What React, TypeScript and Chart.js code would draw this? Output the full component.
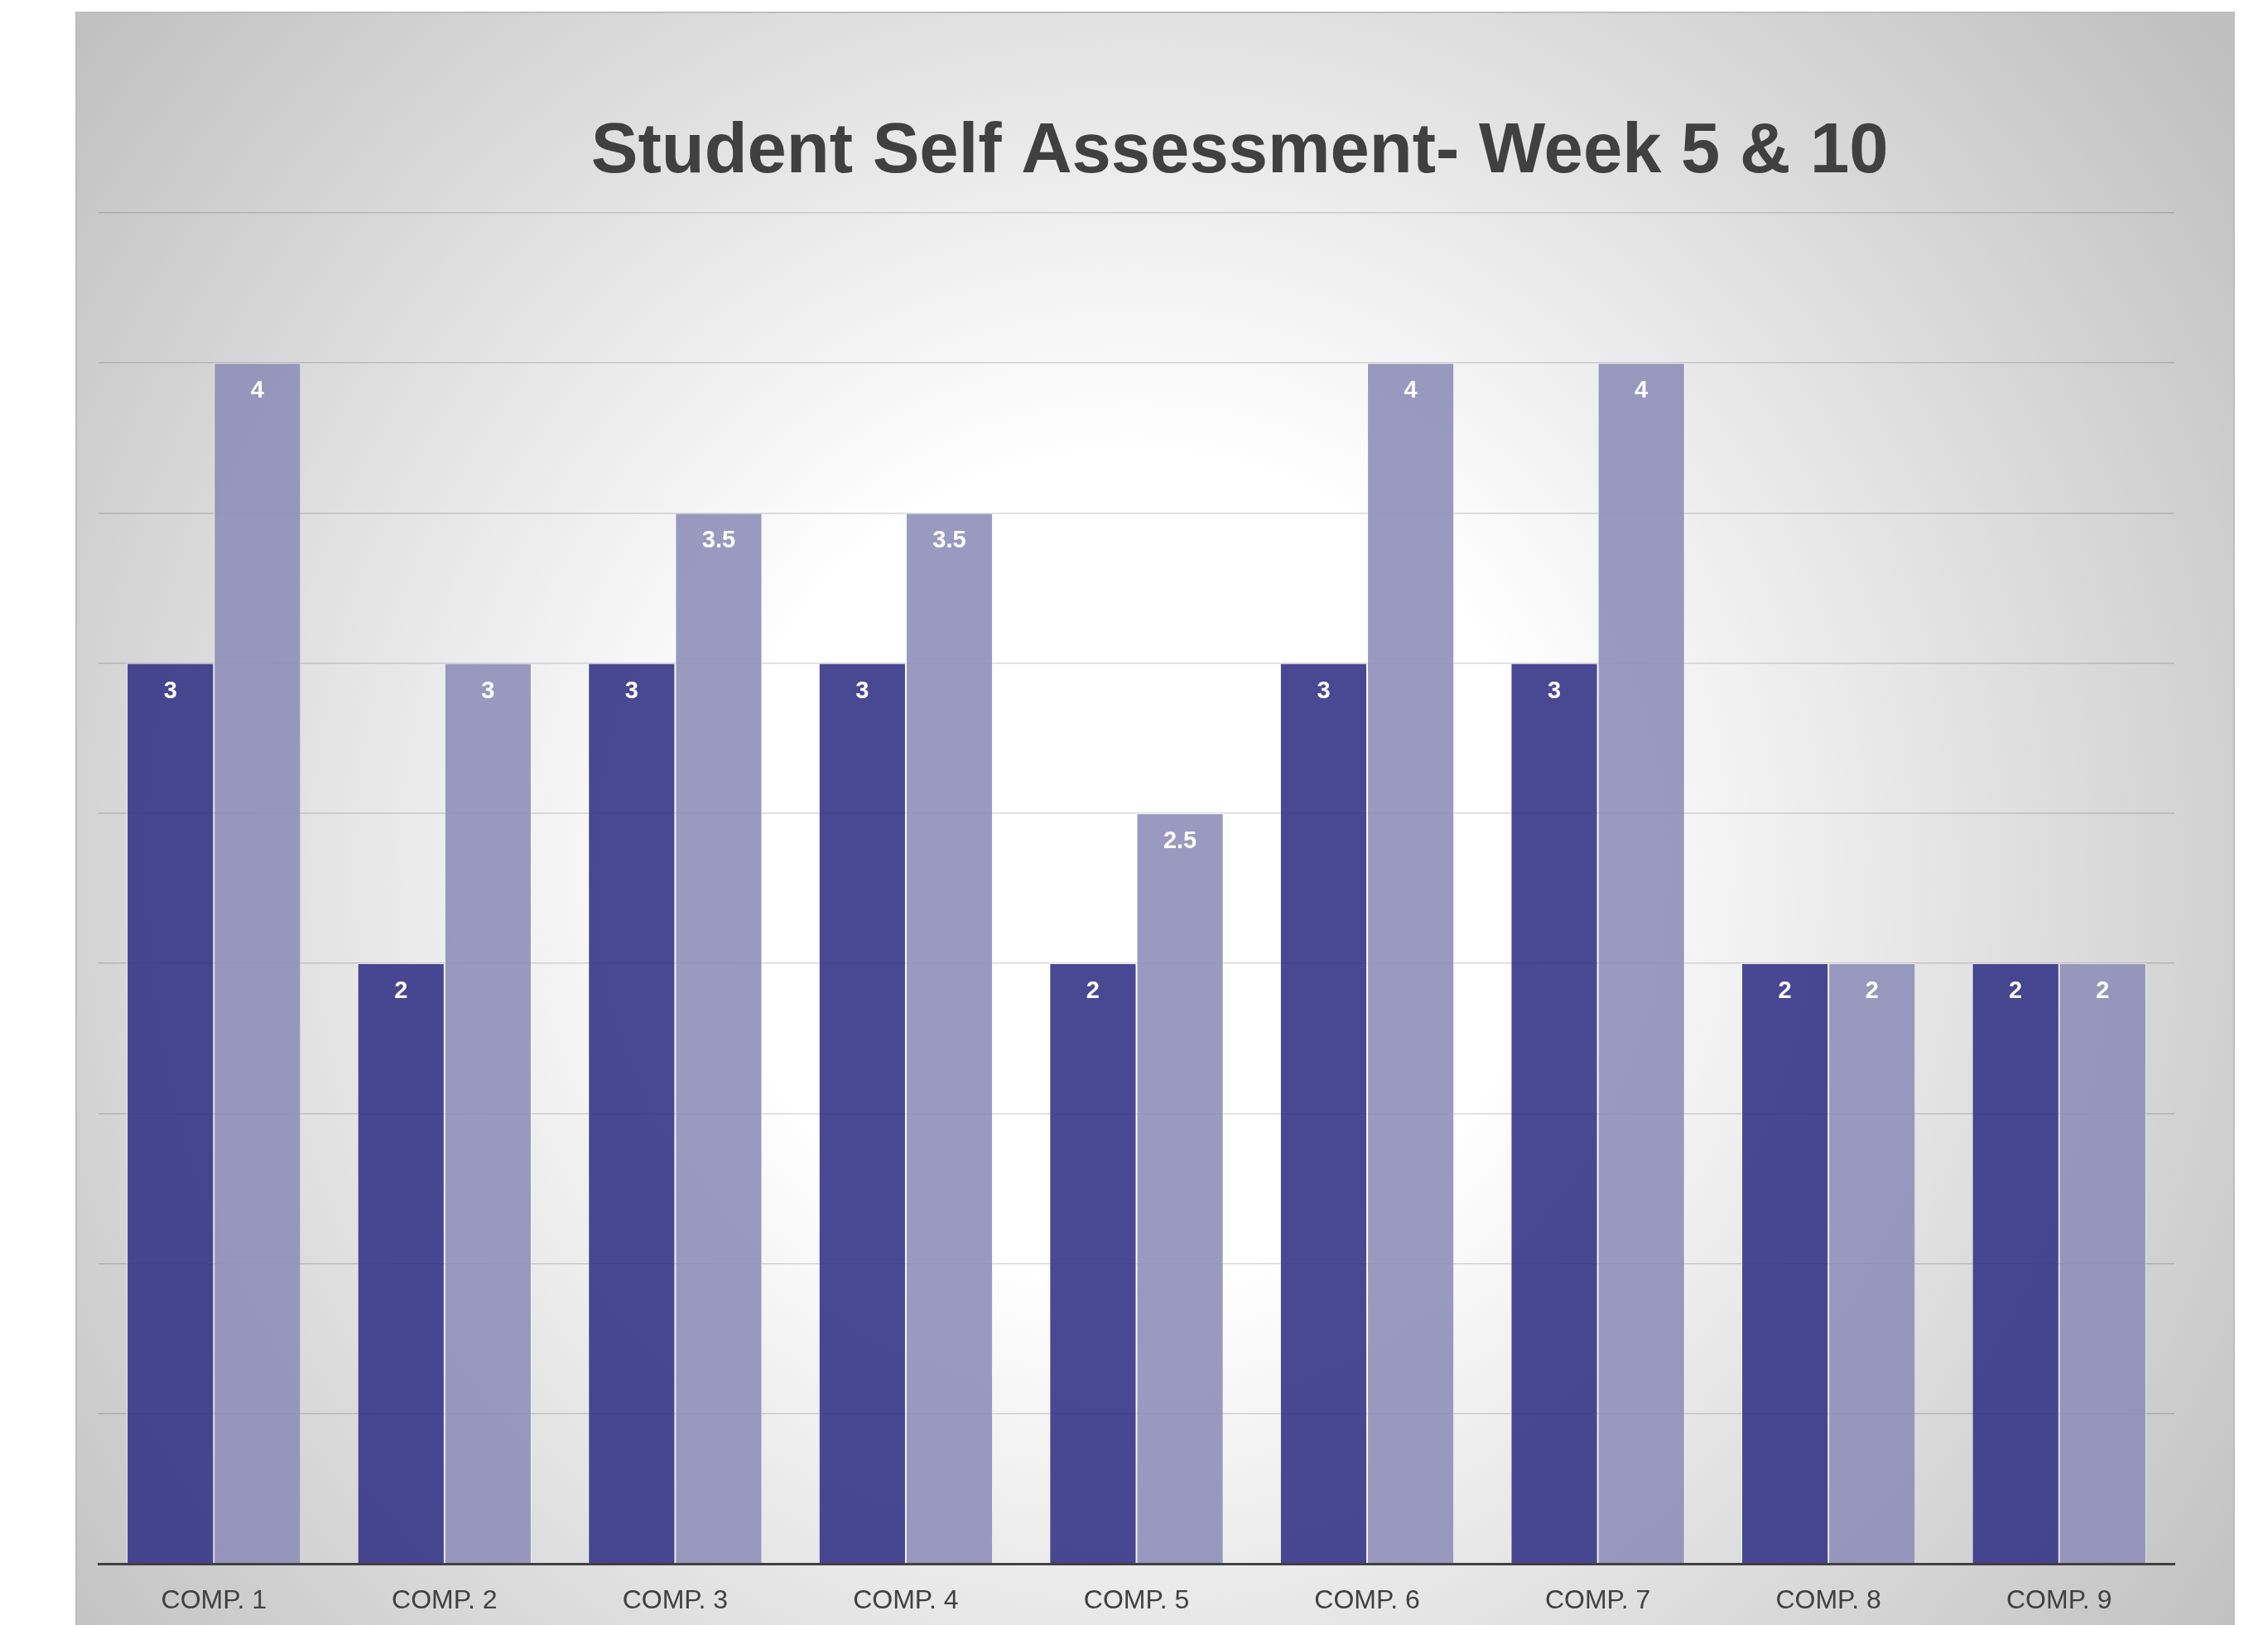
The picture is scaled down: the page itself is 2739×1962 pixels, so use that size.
import React, { useEffect, useRef } from "react";
import { Chart, registerables } from "chart.js";

Chart.register(...registerables);

const categories = ["COMP. 1", "COMP. 2", "COMP. 3", "COMP. 4", "COMP. 5", "COMP. 6", "COMP. 7", "COMP. 8", "COMP. 9"];
const week5 = [3, 2, 3, 3, 2, 3, 3, 2, 2];
const week10 = [4, 3, 3.5, 3.5, 2.5, 4, 4, 2, 2];
const seriesNames = ["Week 5", "Week 10"];
const titleText = "Student Self Assessment- Week 5 & 10";
const FONT = "'Liberation Sans', Arial, sans-serif";

const bgPlugin = {
  id: "bgGradient",
  beforeDraw(chart: any) {
    const { ctx, width, height } = chart;
    ctx.save();
    const cx = width * 0.49;
    const cy = height * 0.53;
    const g = ctx.createRadialGradient(cx, cy, 0, cx, cy, 1650);
    g.addColorStop(0, "#ffffff");
    g.addColorStop(0.3, "#ffffff");
    g.addColorStop(1, "#bfbfbf");
    ctx.fillStyle = g;
    ctx.fillRect(0, 0, width, height);
    ctx.restore();
  },
};

const titlePlugin = {
  id: "customTitle",
  afterDraw(chart: any) {
    const { ctx, chartArea } = chart;
    ctx.save();
    ctx.font = `bold 85px ${FONT}`;
    ctx.fillStyle = "#404040";
    ctx.textAlign = "center";
    ctx.textBaseline = "alphabetic";
    const x = chartArea.left + (chartArea.right - chartArea.left) * 0.5497;
    ctx.fillText(titleText, x, chartArea.top - 49);
    ctx.restore();
  },
};

const valueLabelPlugin = {
  id: "valueLabels",
  afterDatasetsDraw(chart: any) {
    const { ctx } = chart;
    ctx.save();
    ctx.font = `bold 29px ${FONT}`;
    ctx.fillStyle = "#ffffff";
    ctx.textAlign = "center";
    ctx.textBaseline = "middle";
    chart.data.datasets.forEach((ds: any, di: number) => {
      const meta = chart.getDatasetMeta(di);
      meta.data.forEach((el: any, i: number) => {
        const v = ds.data[i];
        ctx.fillText(String(v), el.x, el.y + 34);
      });
    });
    ctx.restore();
  },
};

export default function App() {
  const ref = useRef<HTMLCanvasElement | null>(null);
  useEffect(() => {
    if (!ref.current) return;
    const chart = new Chart(ref.current, {
      type: "bar",
      data: {
        labels: categories,
        datasets: [
          {
            label: seriesNames[0],
            data: week5,
            backgroundColor: "rgba(53,52,134,0.9)",
            borderColor: "rgba(255,255,255,0.55)",
            borderWidth: 1,
          },
          {
            label: seriesNames[1],
            data: week10,
            backgroundColor: "rgba(143,143,185,0.9)",
            borderColor: "rgba(255,255,255,0.55)",
            borderWidth: 1,
          },
        ],
      },
      options: {
        animation: false,
        responsive: false,
        maintainAspectRatio: false,
        devicePixelRatio: 1,
        layout: { padding: { left: 26, right: 71, top: 241, bottom: 0 } },
        plugins: {
          legend: { display: false },
          title: { display: false },
          tooltip: { enabled: false },
        },
        datasets: {
          bar: { categoryPercentage: 0.755, barPercentage: 1 },
        },
        scales: {
          x: {
            grid: { display: false },
            border: { display: true, color: "#404040", width: 3 },
            ticks: {
              color: "#404040",
              font: { family: FONT, size: 32 },
              padding: 18,
              maxRotation: 0,
            },
            afterFit(scale: any) {
              scale.height = 74;
            },
          },
          y: {
            min: 0,
            max: 4.5,
            ticks: { display: false, stepSize: 0.5 },
            grid: { color: "rgba(0,0,0,0.15)", lineWidth: 1.5, drawTicks: false },
            border: { display: false },
            afterFit(scale: any) {
              scale.width = 0;
            },
          },
        },
      },
      plugins: [bgPlugin, titlePlugin, valueLabelPlugin],
    });
    return () => chart.destroy();
  }, []);

  return (
    <div
      style={{
        position: "absolute",
        left: 91,
        top: 14,
        border: "2px solid #bdbdbd",
        borderBottom: "none",
        width: 2604,
        height: 1946,
      }}
    >
      <canvas ref={ref} width={2604} height={1946} style={{ display: "block", width: 2604, height: 1946 }} />
    </div>
  );
}
